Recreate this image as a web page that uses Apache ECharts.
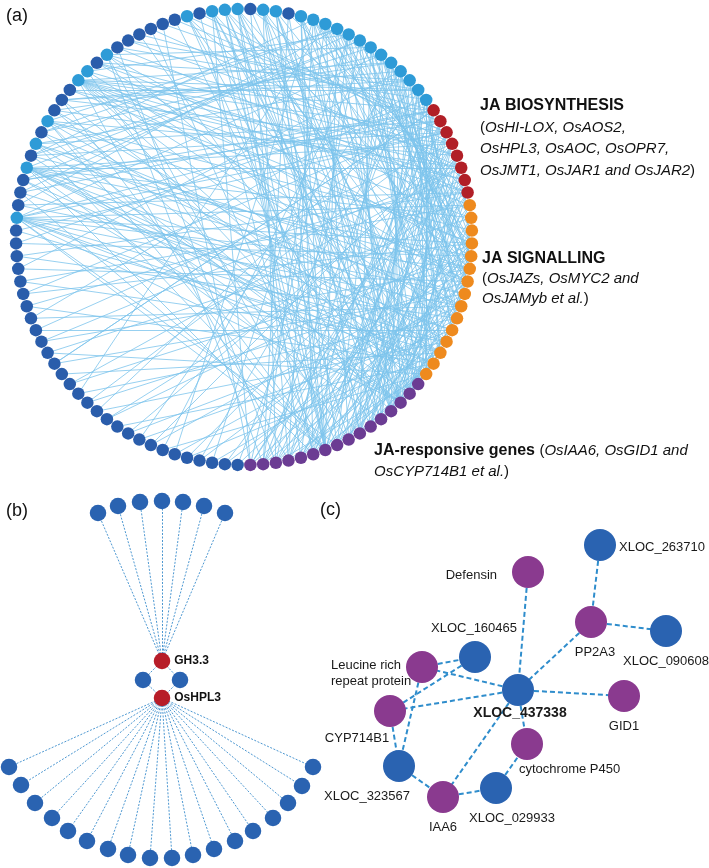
<!DOCTYPE html>
<html>
<head>
<meta charset="utf-8">
<script src="https://cdn.jsdelivr.net/npm/echarts@6/dist/echarts.min.js"></script>
<style>
  html, body { margin: 0; padding: 0; background: #fff; }
  #chart { width: 709px; height: 868px; }
</style>
</head>
<body>
<div id="chart"></div>
<script>
// ---------- (a) co-expression ring ----------
// node groups, clockwise from just below 3 o'clock
const ringRuns = [
  ['orange', 12], ['purple', 16], ['dark', 29],
  ['light', 1], ['dark', 3], ['light', 1], ['dark', 1], ['light', 1], ['dark', 1], ['light', 1],
  ['dark', 3], ['light', 2], ['dark', 1], ['light', 1], ['dark', 6], ['light', 1], ['dark', 1],
  ['light', 3], ['dark', 1], ['light', 2], ['dark', 1], ['light', 13],
  ['red', 8], ['orange', 3]
];

// edges: [node, [partners]] (node index along the ring)
const ringLinks = [
  // dark nodes, bottom-left arc
  [28, [0, 96]], [29, [3]], [30, [6, 92]], [31, [1, 99]], [32, [9]], [33, [4, 89]],
  [34, [11, 94]], [35, [2]], [36, [7, 97]], [37, [5, 105]], [38, [10]], [39, [0, 108]],
  [40, [8, 100]], [41, [3]], [42, [6, 90]], [43, [1, 106]], [44, [9]], [45, [4, 101]],
  [46, [11, 110]], [47, [2]], [48, [7, 104]], [49, [5, 99]], [50, [10, 107]], [51, [0]],
  [52, [8, 109]], [53, [3, 97]], [54, [6]], [55, [1, 100]], [56, [9, 103]],
  // dark nodes, left / top-left arc
  [58, [4, 108]], [59, [7]], [60, [10, 101]], [62, [2]], [64, [5, 91]], [66, [8]],
  [67, [11, 98]], [68, [0]], [71, [3, 109]], [73, [25]], [74, [99]], [75, [14]],
  [76, [20]], [77, [27]], [78, [16]], [80, [22]], [84, [12, 24]], [87, [18, 26]],
  // light hubs on the left
  [57, [0, 2, 5, 8, 10, 11, 14, 20, 95, 103, 109, 101]],
  [61, [1, 4, 7, 10, 11, 16, 22, 93, 104, 110, 106, 9]],
  [63, [3, 6, 13, 98, 102]],
  [65, [2, 9, 18, 91, 105, 111]],
  [69, [0, 3, 6, 9, 12, 15, 24, 96, 99, 101, 106, 110, 103, 108]],
  [70, [5, 19, 92, 107]],
  [72, [1, 8, 21, 26, 94, 104]],
  // light nodes at the top
  [79, [2, 10, 17, 103, 14]],
  [81, [4, 12, 19, 27, 13, 21]], [82, [6, 14, 21, 15, 0, 22]], [83, [8, 16, 23, 14, 2, 21]],
  [85, [10, 18, 25, 21, 3, 15]], [86, [1, 13, 20, 21, 14, 11]], [88, [5, 15, 22, 14, 9, 21]],
  // light nodes, top-right arc
  [89, [12, 17, 24, 0, 4, 62, 109]], [90, [13, 19, 26, 7, 3, 110]], [91, [14, 21, 1, 6, 58, 111]],
  [92, [15, 23, 27, 9, 59, 0]], [93, [16, 25, 2, 10, 60, 1]], [94, [12, 18, 4, 11, 62, 2]],
  [95, [13, 20, 6, 1, 64, 3]], [96, [14, 22, 8, 3, 66, 5]], [97, [15, 24, 5, 10, 67, 7]],
  [98, [16, 26, 7, 0, 71, 9]], [99, [17, 19, 9, 2, 68, 11]], [100, [18, 21, 11, 4, 73, 6]],
  // JA biosynthesis (red)
  [101, [12, 16, 20, 24, 59, 75, 45]], [102, [13, 17, 21, 25, 60, 77, 51]],
  [103, [14, 18, 22, 26, 62, 78, 41]], [104, [15, 19, 23, 27, 67, 80, 35]],
  [105, [12, 17, 22, 27, 71, 74, 29]], [106, [13, 18, 23, 66, 76, 47]],
  [107, [14, 19, 24, 68, 84, 32]], [108, [15, 20, 25, 73, 87, 54]],
  // JA signalling (orange) to responsive genes
  [0, [16, 20]], [1, [13, 22]], [2, [18, 25]], [3, [14, 27]], [4, [19, 23]], [5, [12, 26]],
  [6, [15, 21]], [7, [17, 24]], [8, [20, 12]], [9, [13, 18]], [10, [22, 14]], [11, [16, 25]],
  [109, [19, 26]], [110, [21, 15]], [111, [23, 17]],
  [14, [60, 62, 64, 66]], [21, [57, 59, 63, 65, 67]]
];

// ---------- (b) GH3.3 / OsHPL3 sub-network (positions) ----------
const bTopX = [98, 118, 140, 162, 183, 204, 225];
const bTopY = [513, 506, 502, 501, 502, 506, 513];
const bLowX = [9, 21, 35, 52, 68, 87, 108, 128, 150, 172, 193, 214, 235, 253, 273, 288, 302, 313];
const bLowY = [767, 785, 803, 818, 831, 841, 849, 855, 858, 858, 855, 849, 841, 831, 818, 803, 786, 767];
const bHubs = ['GH3.3', 'OsHPL3'];
const bHubXY = [[162, 661], [162, 698]];
const bMidXY = [[143, 680], [180, 680]];

// ---------- (c) XLOC_437338 sub-network ----------
const cNames = ['XLOC_263710', 'Defensin', 'PP2A3', 'XLOC_090608', 'XLOC_160465',
  'Leucine rich\nrepeat protein', 'XLOC_437338', 'GID1', 'CYP714B1', 'cytochrome P450',
  'XLOC_323567', 'XLOC_029933', 'IAA6'];
const cKinds = ['lnc', 'gene', 'gene', 'lnc', 'lnc', 'gene', 'lnc', 'gene', 'gene', 'gene', 'lnc', 'lnc', 'gene'];
const cX = [600, 528, 591, 666, 475, 422, 518, 624, 390, 527, 399, 496, 443];
const cY = [545, 572, 622, 631, 657, 667, 690, 696, 711, 744, 766, 788, 797];
const cEdges = [
  [1, 6], [0, 2], [2, 3], [2, 6], [6, 7], [6, 5], [6, 8], [6, 9], [6, 12],
  [5, 4], [4, 8], [5, 10], [8, 10], [10, 12], [12, 11], [11, 9]
];

// ---------- styles ----------
const ringColors = { dark: '#2a5dab', light: '#2e9bd7', red: '#b11f27', orange: '#ee8a1e', purple: '#6b3c93' };
const cColors = { lnc: '#2a63b1', gene: '#8a3a8f' };
const FONT = '"Liberation Sans", Arial, Helvetica, sans-serif';

// label placement for (c): [dx, dy, align] from node centre
const cLabelPos = {
  'XLOC_263710': [19, 2, 'left'],
  'Defensin': [-31, 3, 'right'],
  'PP2A3': [4, 30, 'center'],
  'XLOC_090608': [0, 30, 'center'],
  'XLOC_160465': [-1, -29, 'center'],
  'Leucine rich\nrepeat protein': [-91, 6, 'left'],
  'XLOC_437338': [2, 23, 'center'],
  'GID1': [0, 30, 'center'],
  'CYP714B1': [-33, 27, 'center'],
  'cytochrome P450': [-8, 25, 'left'],
  'XLOC_323567': [-32, 30, 'center'],
  'XLOC_029933': [16, 30, 'center'],
  'IAA6': [0, 30, 'center']
};

// build ring nodes
const ringNodes = [];
ringRuns.forEach(([g, n]) => {
  for (let i = 0; i < n; i++) {
    ringNodes.push({ name: 'n' + ringNodes.length, itemStyle: { color: ringColors[g] } });
  }
});
const ringEdges = [];
ringLinks.forEach(([s, ts]) => ts.forEach(t => ringEdges.push({ source: s, target: t })));

// build (b)
const bNodes = [];
const bEdges = [];
const blue = '#2a63b1';
const redHub = '#b71d29';
bHubs.forEach((h, i) => bNodes.push({
  name: h, value: bHubXY[i], itemStyle: { color: redHub },
  label: { show: true, position: 'right', distance: 4, fontWeight: 'bold', fontSize: 12, color: '#111', fontFamily: FONT }
}));
bMidXY.forEach((p, i) => {
  bNodes.push({ name: 'm' + i, value: p, itemStyle: { color: blue } });
  bEdges.push({ source: 'GH3.3', target: 'm' + i }, { source: 'm' + i, target: 'OsHPL3' });
});
bTopX.forEach((x, i) => {
  bNodes.push({ name: 't' + i, value: [x, bTopY[i]], itemStyle: { color: blue } });
  bEdges.push({ source: 'GH3.3', target: 't' + i });
});
bLowX.forEach((x, i) => {
  bNodes.push({ name: 'l' + i, value: [x, bLowY[i]], itemStyle: { color: blue } });
  bEdges.push({ source: 'OsHPL3', target: 'l' + i });
});

// build (c)
const cNodes = cNames.map((n, i) => {
  const [dx, dy, align] = cLabelPos[n];
  const bold = n === 'XLOC_437338';
  return {
    name: n, value: [cX[i], cY[i]], itemStyle: { color: cColors[cKinds[i]] },
    label: {
      show: true, position: ['50%', '50%'], offset: [dx, dy], align: align, verticalAlign: 'middle',
      fontSize: bold ? 14 : 13, fontWeight: bold ? 'bold' : 'normal', color: '#1a1a1a',
      fontFamily: FONT, lineHeight: 16
    }
  };
});
const cLinks = cEdges.map(([s, t]) => ({ source: cNames[s], target: cNames[t] }));

function txt(x, y, text, rich) {
  return {
    type: 'text', x: x, y: y, silent: true,
    style: { text: text, verticalAlign: 'middle', align: 'left', fill: '#111', fontFamily: FONT, fontSize: 15, rich: rich }
  };
}
const rich = {
  b: { fontWeight: 'bold', fontSize: 16, fontFamily: FONT, fill: '#111' },
  n: { fontSize: 15, fontFamily: FONT, fill: '#111' },
  i: { fontStyle: 'italic', fontSize: 15, fontFamily: FONT, fill: '#111' }
};
const panelFont = { fontSize: 18, fontFamily: FONT, fill: '#111', verticalAlign: 'middle' };

const chart = echarts.init(document.getElementById('chart'));
chart.setOption({
  animation: false,
  grid: { left: 0, top: 0, width: 709, height: 868, show: false },
  xAxis: { type: 'value', min: 0, max: 709, show: false },
  yAxis: { type: 'value', min: 0, max: 868, inverse: true, show: false },
  graphic: [
    { type: 'text', x: 6, y: 16, style: Object.assign({ text: '(a)' }, panelFont) },
    { type: 'text', x: 6, y: 511, style: Object.assign({ text: '(b)' }, panelFont) },
    { type: 'text', x: 320, y: 510, style: Object.assign({ text: '(c)' }, panelFont) },
    txt(480, 106, '{b|JA BIOSYNTHESIS}', rich),
    txt(480, 128, '{n|(}{i|OsHI-LOX, OsAOS2,}', rich),
    txt(480, 149, '{i|OsHPL3, OsAOC, OsOPR7,}', rich),
    txt(480, 171, '{i|OsJMT1, OsJAR1 and OsJAR2}{n|)}', rich),
    txt(482, 259, '{b|JA SIGNALLING}', rich),
    txt(482, 279, '{n|(}{i|OsJAZs, OsMYC2 and}', rich),
    txt(482, 299, '{i|OsJAMyb et al.}{n|)}', rich),
    txt(374, 451, '{b|JA-responsive genes }{n|(}{i|OsIAA6, OsGID1 and}', rich),
    txt(374, 472, '{i|OsCYP714B1 et al.}{n|)}', rich)
  ],
  series: [
    {
      type: 'graph', layout: 'circular',
      left: 16, top: 7, width: 456, height: 460,
      roam: false, silent: true,
      symbol: 'circle', symbolSize: 12.5,
      data: ringNodes, links: ringEdges,
      label: { show: false },
      lineStyle: { color: '#7cc4ec', width: 0.8, opacity: 1, curveness: 0 },
      emphasis: { disabled: true }
    },
    {
      type: 'graph', coordinateSystem: 'cartesian2d', layout: 'none',
      silent: true, symbol: 'circle', symbolSize: 16.5,
      data: bNodes, links: bEdges,
      label: { show: false },
      lineStyle: { color: '#3a8ccc', width: 0.9, opacity: 1, type: [2, 1.5] },
      emphasis: { disabled: true }
    },
    {
      type: 'graph', coordinateSystem: 'cartesian2d', layout: 'none',
      silent: true, symbol: 'circle', symbolSize: 32,
      data: cNodes, links: cLinks,
      lineStyle: { color: '#2f8dcc', width: 2, opacity: 1, type: [5, 3] },
      emphasis: { disabled: true }
    }
  ]
});
</script>
</body>
</html>
